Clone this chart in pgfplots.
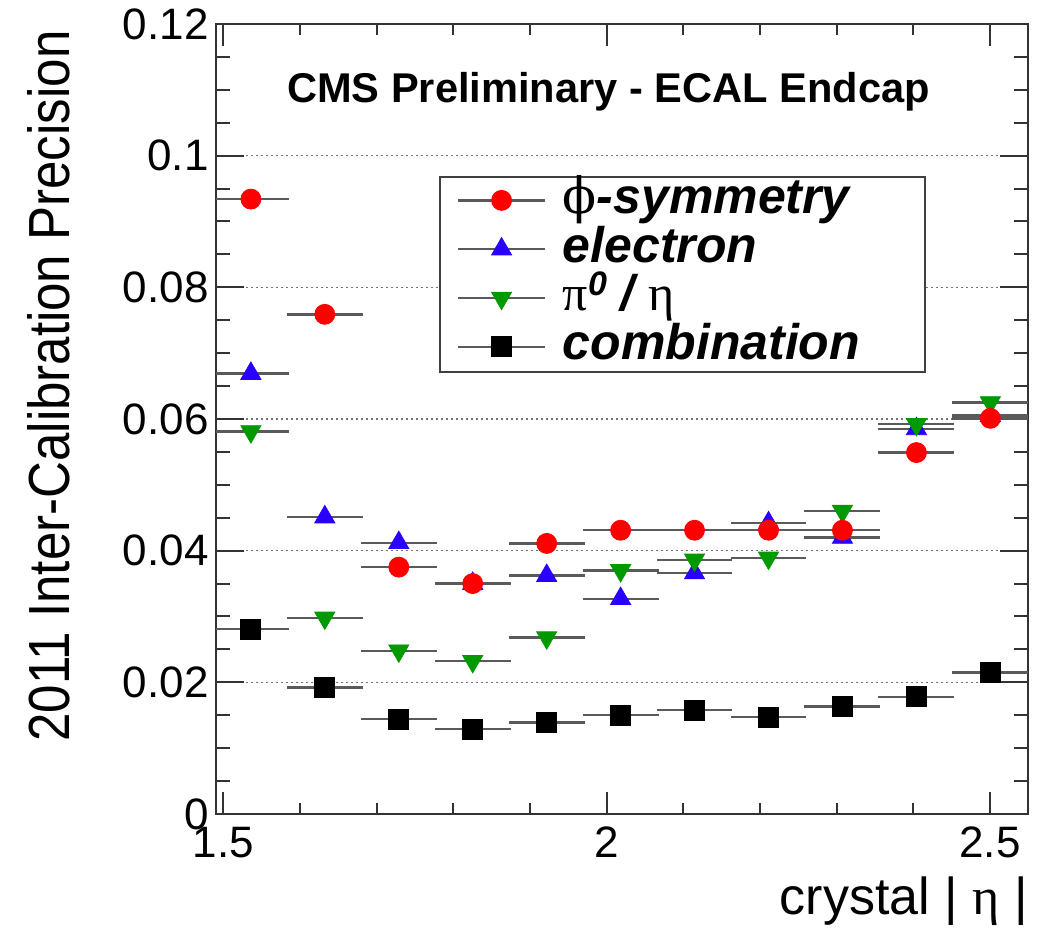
\documentclass[border=0pt]{standalone}
\usepackage{graphicx}
\usepackage{pgfplots}
\pgfplotsset{compat=1.18}
\usepackage{pgfplotstable}
\usepackage{fontspec}
\setmainfont{Liberation Sans}
\newfontfamily\grk{Liberation Serif}
\newfontfamily\phifont{DejaVu Serif}
\definecolor{rootred}{RGB}{255,0,0}
\definecolor{rootblue}{RGB}{40,0,255}
\definecolor{rootgreen}{RGB}{0,153,0}
\definecolor{ebar}{RGB}{90,90,90}

\pgfplotstableread{
x      phi     ele     pi      comb    ex
1.5360 0.0934  0.0669  0.0581  0.0281  0.0495
1.6324 0.0759  0.0451  0.0298  0.0192  0.0495
1.7289 0.0375  0.0412  0.0248  0.0144  0.0495
1.8253 0.0350  0.0350  0.0232  0.0129  0.0495
1.9218 0.0411  0.0362  0.0268  0.0139  0.0495
2.0182 0.0431  0.0327  0.0370  0.0150  0.0495
2.1146 0.0431  0.0366  0.0386  0.0158  0.0495
2.2111 0.0431  0.0442  0.0389  0.0147  0.0495
2.3075 0.0431  0.0420  0.0460  0.0163  0.0495
2.4040 0.0549  0.0585  0.0592  0.0178  0.0495
2.5004 0.0601  0.0605  0.0625  0.0215  0.0495
}\datatable

\begin{document}
\begin{tikzpicture}
\useasboundingbox (0,0) rectangle (520pt,467.5pt);
\begin{axis}[
  at={(108pt,60.5pt)}, anchor=south west,
  scale only axis, width=406pt, height=395pt,
  xmin=1.4905, xmax=2.5495, ymin=0, ymax=0.12,
  xtick={1.5,2,2.5}, ytick={0,0.02,0.04,0.06,0.08,0.1,0.12},
  minor x tick num=4, minor y tick num=3,
  tick align=inside, xtick pos=both, ytick pos=both,
  major tick length=14pt, minor tick length=7pt,
  xtick style={/pgfplots/major tick length=11pt,/pgfplots/minor tick length=5.5pt},
  axis line style={black!80, line width=1.1pt},
  tick style={black!80, line width=1pt},
  ymajorgrids, grid style={black!55, line width=0.8pt, dash pattern=on 1.2pt off 1.3pt},
  tick label style={font=\fontsize{22}{26}\selectfont, inner sep=0pt},
  /pgf/number format/assume math mode=true,
  /pgf/number format/fixed, /pgf/number format/precision=2,
  xticklabel style={yshift=-6.3pt},
  yticklabel style={xshift=-3.5pt},
  ylabel={\scalebox{0.88}[1]{2011 Inter-Calibration Precision}},
  every axis y label/.style={at={(axis description cs:-0.2057,0.9924)}, anchor=east, rotate=90, inner sep=0pt, font=\fontsize{29}{34}\selectfont},
  xlabel={crystal | {\grk η} |},
  every axis x label/.style={at={(axis description cs:1,-0.1278)}, anchor=base east, inner sep=0pt, font=\fontsize{26}{30}\selectfont},
  legend style={at={(0.2964,0.8081)}, anchor=north west, draw=none, fill=none, inner sep=0pt,
    column sep=8.35pt, row sep=0pt, font=\fontsize{25}{30}\selectfont\bfseries\itshape,
    nodes={inner sep=0pt, text height=18.7pt, text depth=5.7pt}},
  legend cell align=left,
  legend image code/.code={\draw[mark repeat=2, mark phase=2, #1] plot coordinates {(0pt,0pt) (21.65pt,0pt) (43.3pt,0pt)};},
  error bars/error bar style={ebar, line width=1.2pt},
]
% data series (drawing order: electron, pi0/eta, phi-symmetry, combination)
\addplot[forget plot, only marks, mark=triangle*, mark size=5.8pt, mark options={fill=rootblue, draw=rootblue},
  error bars/.cd, x dir=both, x explicit, error mark=none]
  table[x=x, y=ele, x error=ex] {\datatable};
\addplot[forget plot, only marks, mark=triangle*, mark size=5.8pt, mark options={rotate=180, fill=rootgreen, draw=rootgreen},
  error bars/.cd, x dir=both, x explicit, error mark=none]
  table[x=x, y=pi, x error=ex] {\datatable};
\addplot[forget plot, only marks, mark=*, mark size=5pt, mark options={fill=rootred, draw=rootred},
  error bars/.cd, x dir=both, x explicit, error mark=none]
  table[x=x, y=phi, x error=ex] {\datatable};
\addplot[forget plot, only marks, mark=square*, mark size=5pt, mark options={fill=black, draw=black},
  error bars/.cd, x dir=both, x explicit, error mark=none]
  table[x=x, y=comb, x error=ex] {\datatable};

% legend frame
\draw[black!75, line width=1pt, fill=white] (axis description cs:0.2759,0.8067) rectangle (axis description cs:0.8732,0.5599);

\addlegendimage{ebar, line width=1.2pt, mark=*, mark size=5pt, mark options={solid, fill=rootred, draw=rootred, line width=0.4pt}}
\addlegendentry{{\phifont\mdseries\upshape ϕ}-symmetry}
\addlegendimage{ebar, line width=1.2pt, mark=triangle*, mark size=5.8pt, mark options={solid, fill=rootblue, draw=rootblue, line width=0.4pt}}
\addlegendentry{electron}
\addlegendimage{ebar, line width=1.2pt, mark=triangle*, mark size=5.8pt, mark options={solid, rotate=180, fill=rootgreen, draw=rootgreen, line width=0.4pt}}
\addlegendentry{{\grk\mdseries\upshape π}\raisebox{0.3em}{\fontsize{17}{17}\selectfont 0} / {\grk\mdseries\upshape η}}
\addlegendimage{ebar, line width=1.2pt, mark=square*, mark size=5pt, mark options={solid, fill=black, draw=black, line width=0.4pt}}
\addlegendentry{combination}

\node[anchor=base west, inner sep=0pt, font=\fontsize{20.8}{24}\selectfont\bfseries] at (axis description cs:0.0871,0.9) {CMS Preliminary - ECAL Endcap};
\end{axis}
\end{tikzpicture}
\end{document}
